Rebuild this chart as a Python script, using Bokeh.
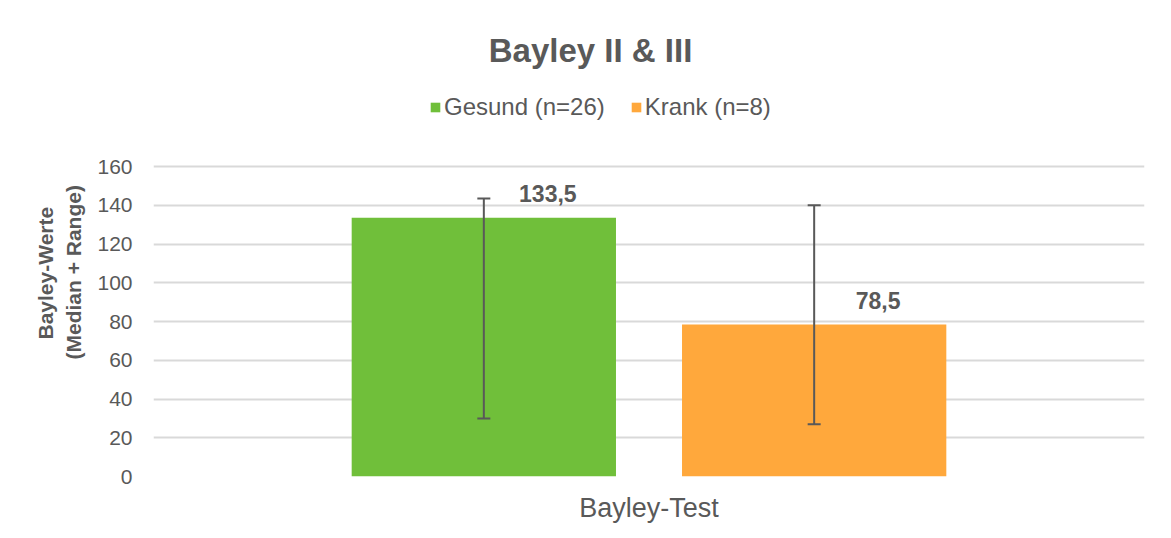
from bokeh.plotting import figure
from bokeh.models import (ColumnDataSource, FactorRange, Range1d, FixedTicker, Legend,
                          LegendItem, Whisker, TeeHead, Title, Label)
from bokeh.transform import dodge
from bokeh.core.properties import value
from bokeh.embed import file_html
from bokeh.resources import INLINE

# ---- data ----
categories = ["Bayley-Test"]
series = ["Gesund (n=26)", "Krank (n=8)"]
medians = [133.5, 78.5]
range_min = [30, 27]
range_max = [143.5, 140]
value_labels = ["133,5", "78,5"]
y_ticks = [0, 20, 40, 60, 80, 100, 120, 140, 160]
chart_title = "Bayley II & III"
y_title_lines = ["Bayley-Werte", "(Median + Range)"]

# ---- style ----
colors = ["#70bf3a", "#ffa83c"]
offsets = [-1 / 6, 1 / 6]
bar_width = 0.2667
text_color = "#595959"
font = "Liberation Sans"

# frame reaches the top of the canvas so that title and legend sit inside it;
# the axis value 160 lands 166 px from the top (310 px for 160 units)
y_top = 160 * 476 / 310

p = figure(x_range=FactorRange(factors=categories, range_padding=0),
           y_range=Range1d(0, y_top),
           width=1171, height=538,
           min_border_left=153, min_border_right=27,
           min_border_top=0, min_border_bottom=62,
           output_backend="svg", toolbar_location=None)

p.outline_line_color = None
p.xgrid.grid_line_color = None
p.ygrid.grid_line_color = "#d9d9d9"
p.ygrid.grid_line_width = 2
p.yaxis.ticker = FixedTicker(ticks=y_ticks)

for ax in (p.xaxis[0], p.yaxis[0]):
    ax.axis_line_color = None
    ax.major_tick_line_color = None
    ax.minor_tick_line_color = None
    ax.major_tick_out = 0
    ax.major_tick_in = 0
    ax.minor_tick_out = 0
    ax.minor_tick_in = 0
    ax.major_label_text_color = text_color
    ax.major_label_text_font = font
p.yaxis.major_label_text_font_size = "21px"
p.yaxis.major_label_standoff = 21
p.xaxis.major_label_text_font_size = "27px"
p.xaxis.major_label_standoff = 16

items = []
for i, name in enumerate(series):
    src = ColumnDataSource(dict(cat=categories, val=[medians[i]],
                                lo=[range_min[i]], hi=[range_max[i]],
                                lab=[value_labels[i]]))
    xs = dodge("cat", offsets[i], range=p.x_range)
    r = p.vbar(x=xs, top="val", bottom=0, width=bar_width, source=src,
               fill_color=colors[i], line_color=None)
    items.append(LegendItem(label=name, renderers=[r]))
    w = Whisker(base=xs, upper="hi", lower="lo", source=src, level="overlay",
                line_color=text_color, line_width=2,
                upper_head=TeeHead(size=13, line_color=text_color, line_width=2),
                lower_head=TeeHead(size=13, line_color=text_color, line_width=2))
    p.add_layout(w)
    p.text(x=xs, y="val", text="lab", source=src,
           x_offset=64, y_offset=-24,
           text_align="center", text_baseline="middle",
           text_font=value(font), text_font_style="bold",
           text_font_size="23px", text_color=text_color)

legend = Legend(items=items, orientation="horizontal", location=(276, 355),
                glyph_width=12, glyph_height=12, label_standoff=3, spacing=25,
                padding=0, margin=0, border_line_color=None,
                background_fill_alpha=0, label_height=20,
                label_text_font=font, label_text_font_size="24px",
                label_text_color=text_color)
p.add_layout(legend)

p.add_layout(Label(x=437, y=426, x_units="screen", y_units="screen",
                   text=chart_title, text_align="center", text_baseline="middle",
                   text_font=font, text_font_style="bold", text_font_size="33px",
                   text_color=text_color))

# y-axis title: two rotated lines, outer line added last
p.add_layout(Title(text=y_title_lines[1], align="left", offset=117, standoff=19,
                   vertical_align="bottom",
                   text_font=font, text_font_style="bold", text_font_size="21px",
                   text_color=text_color), "left")
p.add_layout(Title(text=y_title_lines[0], align="left", offset=137, standoff=-12,
                   vertical_align="bottom",
                   text_font=font, text_font_style="bold", text_font_size="21px",
                   text_color=text_color), "left")

open("out.html", "w").write(file_html(p, INLINE))
